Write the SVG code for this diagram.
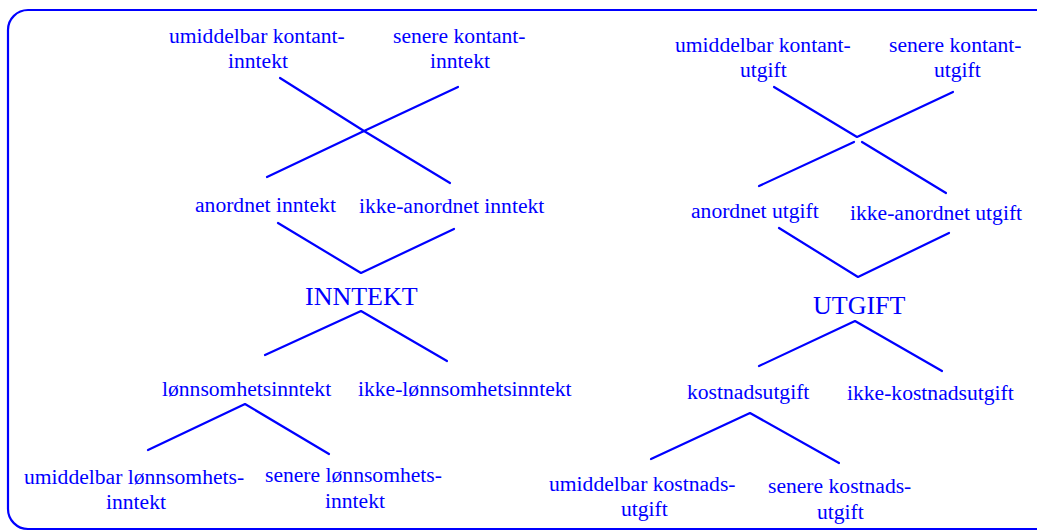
<svg xmlns="http://www.w3.org/2000/svg" width="1037" height="532" viewBox="0 0 1037 532">
<style>
text{font-family:"Liberation Serif","Times New Roman",serif;fill:#0000ff;font-size:21.6px}
text.big{font-size:26px}
.c path{fill:none;stroke:#0000ff;stroke-width:2.2;stroke-linecap:round;stroke-linejoin:round}
</style>
<rect x="8" y="10" width="1050" height="519" rx="20" ry="20" fill="#ffffff" stroke="#0000ff" stroke-width="2.2"/>
<g id="left-umiddelbar-kontant"><text x="169" y="43">umiddelbar kontant-</text><text x="228" y="68">inntekt</text></g>
<g id="left-senere-kontant"><text x="393" y="43">senere kontant-</text><text x="430" y="68">inntekt</text></g>
<g id="anordnet-inntekt"><text x="195" y="212">anordnet inntekt</text></g>
<g id="ikke-anordnet-inntekt"><text x="359" y="213">ikke-anordnet inntekt</text></g>
<g id="inntekt"><text class="big" x="305" y="305">INNTEKT</text></g>
<g id="lonnsomhetsinntekt"><text x="162" y="396">lønnsomhetsinntekt</text></g>
<g id="ikke-lonnsomhetsinntekt"><text x="358" y="396">ikke-lønnsomhetsinntekt</text></g>
<g id="umiddelbar-lonnsomhets"><text x="24" y="484">umiddelbar lønnsomhets-</text><text x="106" y="509">inntekt</text></g>
<g id="senere-lonnsomhets"><text x="265" y="482">senere lønnsomhets-</text><text x="325" y="508">inntekt</text></g>
<g id="right-umiddelbar-kontant"><text x="675" y="52">umiddelbar kontant-</text><text x="740" y="77">utgift</text></g>
<g id="right-senere-kontant"><text x="889" y="52">senere kontant-</text><text x="934" y="77">utgift</text></g>
<g id="anordnet-utgift"><text x="691" y="218">anordnet utgift</text></g>
<g id="ikke-anordnet-utgift"><text x="850" y="220">ikke-anordnet utgift</text></g>
<g id="utgift"><text class="big" x="813" y="314">UTGIFT</text></g>
<g id="kostnadsutgift"><text x="687" y="399">kostnadsutgift</text></g>
<g id="ikke-kostnadsutgift"><text x="847" y="400">ikke-kostnadsutgift</text></g>
<g id="umiddelbar-kostnads"><text x="549" y="491">umiddelbar kostnads-</text><text x="621" y="516">utgift</text></g>
<g id="senere-kostnads"><text x="768" y="493">senere kostnads-</text><text x="817" y="519">utgift</text></g>
<g id="connectors" class="c">
<path d="M280 78 L364 131 L458 87"/>
<path d="M267 177 L364 131 L450 183"/>
<path d="M278 223 L361 273 L454 229"/>
<path d="M265 355 L361 311 L447 361"/>
<path d="M148 450 L245 404 L329 454"/>
<path d="M774 87 L857 137 L953 92"/>
<path d="M759 186 L854 142 M862 142 L946 193"/>
<path d="M779 228 L858 277 L949 233"/>
<path d="M759 366 L855 321 L942 371"/>
<path d="M651 459 L750 413 L839 463"/>
</g>
</svg>
